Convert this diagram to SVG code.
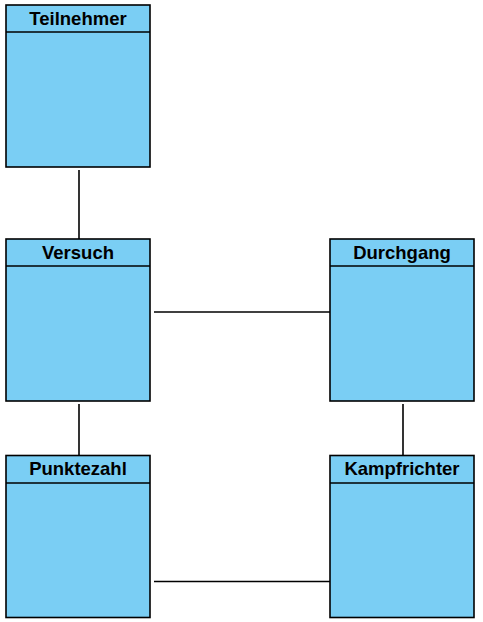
<svg xmlns="http://www.w3.org/2000/svg" width="483" height="622" viewBox="0 0 483 622">
<style>
.box{fill:#7ACEF4;stroke:#000;stroke-width:1.6}
.t{font-family:"Liberation Sans",Arial,sans-serif;font-weight:bold;font-size:18.5px;text-anchor:middle;fill:#000}
.c{stroke:#000;stroke-width:1.6;fill:none}
</style>
<rect width="483" height="622" fill="#fff"/>
<g id="connectors">
<line class="c" x1="79" y1="170" x2="79" y2="239"/>
<line class="c" x1="154" y1="312" x2="330" y2="312"/>
<line class="c" x1="79" y1="404" x2="79" y2="455"/>
<line class="c" x1="403" y1="404" x2="403" y2="455"/>
<line class="c" x1="154" y1="581.5" x2="330" y2="581.5"/>
</g>
<g id="teilnehmer">
<rect class="box" x="6" y="5" width="144" height="162"/>
<line class="c" x1="6" y1="32" x2="150" y2="32"/>
<text class="t" x="78" y="25">Teilnehmer</text>
</g>
<g id="versuch">
<rect class="box" x="6" y="239" width="144" height="162"/>
<line class="c" x1="6" y1="266" x2="150" y2="266"/>
<text class="t" x="78" y="259">Versuch</text>
</g>
<g id="durchgang">
<rect class="box" x="330" y="239" width="144" height="162"/>
<line class="c" x1="330" y1="266" x2="474" y2="266"/>
<text class="t" x="402" y="259">Durchgang</text>
</g>
<g id="punktezahl">
<rect class="box" x="6" y="455.5" width="144" height="162"/>
<line class="c" x1="6" y1="483" x2="150" y2="483"/>
<text class="t" x="78" y="475">Punktezahl</text>
</g>
<g id="kampfrichter">
<rect class="box" x="330" y="455.5" width="144" height="162"/>
<line class="c" x1="330" y1="483" x2="474" y2="483"/>
<text class="t" x="402" y="475">Kampfrichter</text>
</g>
</svg>
